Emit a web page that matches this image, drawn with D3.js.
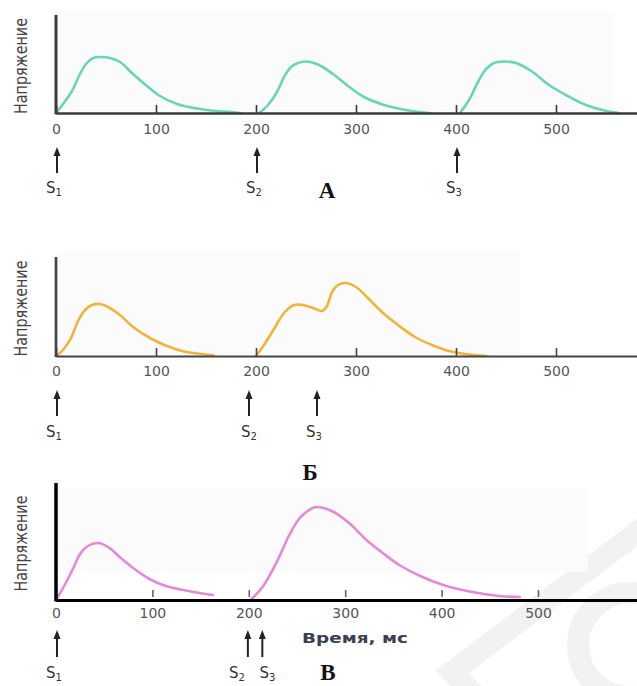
<!DOCTYPE html>
<html>
<head>
<meta charset="utf-8">
<style>
  body { margin: 0; background: #fff; }
  svg { display: block; }
</style>
</head>
<body>
<div id="chart"></div>
<script src="https://d3js.org/d3.v7.min.js"></script>
<script>
// time, ms / voltage (arbitrary units)
const ticks = [0, 100, 200, 300, 400, 500];

const curveA1 = [[0,0],[7,9],[16,22],[23,37],[30,49],[37,55],[45,56],[54,55],[64,51],[77,39],[91,27],[104,17],[121,9],[138,5],[155,2.5],[175,1],[185,0]];
const curveA2 = [[203,0],[212,8],[221,21],[228,36],[235,46],[242,50],[250,51.5],[262,48.5],[277,39],[292,27],[308,16],[325,9],[340,5],[356,2],[374,0]];
const curveA3 = [[404,0],[413,13],[422,31],[430,44],[438,50],[448,51.5],[460,50],[476,41.5],[493,28],[510,18],[530,8],[553,1.5],[563,0]];

const curveB1 = [[0,0],[7,6],[15,18],[22,35],[29,46],[36,51],[44,52],[52,49],[64,41],[77,29],[94,18],[111,10],[128,4.5],[145,2],[158,0.5]];
const curveB2 = [[200,0],[208,11],[218,27],[228,43],[238,51],[247,51],[257,48],[266,45],[271,50],[276,64],[282,71],[290,73],[300,69],[312,58],[326,44],[342,31],[359,19],[376,11],[393,5],[409,2],[430,0]];

const curveV1 = [[0,0],[9,15],[18,32],[25,46],[33,54],[44,57],[54,53],[66,43],[80,32],[97,21],[114,14],[132,10],[149,7],[163,5]];
const curveV2 = [[203,1],[215,14],[229,38],[242,65],[252,81],[261,89],[270,93],[286,89],[304,77],[322,60],[339,47],[356,35],[380,23],[405,14],[432,8],[460,4],[481,3]];

const stimA = [0, 200, 400];
const stimB = [0, 192, 260];
const stimV = [0, 198, 213];

const stimNames = ["1", "2", "3"];
const yTitle = "Напряжение";
const xTitle = "Время, мс";
const panelNames = ["А", "Б", "В"];

const W = 637, H = 686;
const svg = d3.select("#chart").append("svg")
  .attr("width", W).attr("height", H);

// faint watermark
const wm = svg.append("g").attr("fill", "none").attr("stroke", "#f2f2f2").attr("stroke-width", 22);
wm.append("polyline").attr("points", "660,515 452,672 480,700");
wm.append("circle").attr("cx", 630).attr("cy", 645).attr("r", 52);

const panels = [
  { top: 15, base: 113, xEnd: 556, curves: [curveA1, curveA2, curveA3], color: "#68d5b5",
    axis: "#3a3a3a", axisW: 2.5, tickPad: 11, tickIn: [0, 8], stims: stimA, sDx: [0, 0, 0],
    arrow: [147, 173], sY: 193, name: panelNames[0], nameX: 327, nameY: 198,
    bg: [58, 12, 555, 99] },
  { top: 257, base: 356, xEnd: 556, curves: [curveB1, curveB2], color: "#f0b43c",
    axis: "#444", axisW: 2.2, tickPad: 10, tickIn: [0, 8], stims: stimB, sDx: [0, 3, 0],
    arrow: [390, 416], sY: 437, name: panelNames[1], nameX: 310, nameY: 480,
    bg: [58, 252, 462, 103] },
  { top: 483, base: 600, xEnd: 538, curves: [curveV1, curveV2], color: "#e38ad6",
    axis: "#000", axisW: 3, tickPad: 8, tickIn: [3, 10], stims: stimV, sDx: [0, -8, 8],
    arrow: [630, 657], sY: 678, name: panelNames[2], nameX: 328, nameY: 680,
    bg: [58, 488, 530, 84] }
];

panels.forEach(p => {
  const x = d3.scaleLinear().domain([0, 500]).range([56, p.xEnd]);
  x.domain([0, x.invert(W)]).range([56, W]);
  const y = d3.scaleLinear().domain([0, p.base - p.top]).range([p.base, p.top]);
  const g = svg.append("g");

  g.append("rect").attr("x", p.bg[0]).attr("y", p.bg[1])
    .attr("width", p.bg[2]).attr("height", p.bg[3]).attr("fill", "#fbfbfb");

  // curves
  const line = d3.line().x(d => x(d[0])).y(d => y(d[1])).curve(d3.curveCatmullRom.alpha(0.5));
  p.curves.forEach(c => {
    g.append("path").datum(c).attr("d", line)
      .attr("fill", "none").attr("stroke", p.color)
      .attr("stroke-width", 2.6).attr("stroke-linecap", "round");
  });

  // x axis
  const ax = g.append("g").attr("transform", `translate(0,${p.base})`)
    .call(d3.axisBottom(x).tickValues(ticks).tickSizeOuter(0).tickSizeInner(0).tickPadding(p.tickPad));
  ax.select(".domain").attr("stroke", p.axis).attr("stroke-width", p.axisW);
  ax.selectAll(".tick line")
    .attr("y1", -p.tickIn[0]).attr("y2", -p.tickIn[1])
    .attr("stroke", p.axis === "#000" ? "#666" : p.axis).attr("stroke-width", 1.6);
  ax.selectAll(".tick text")
    .attr("fill", "#555").attr("font-family", "DejaVu Sans").attr("font-size", 14);

  // y axis
  g.append("line").attr("x1", 56).attr("x2", 56)
    .attr("y1", p.top).attr("y2", p.base + p.axisW / 2)
    .attr("stroke", p.axis).attr("stroke-width", p.axisW + 0.5);

  g.append("text")
    .attr("transform", `translate(27,${(p.top + p.base) / 2 + 2}) rotate(-90)`)
    .attr("text-anchor", "middle")
    .attr("font-family", "DejaVu Sans").attr("font-size", 17)
    .attr("textLength", 96).attr("lengthAdjust", "spacingAndGlyphs")
    .attr("fill", "#444").text(yTitle);

  // stimulus arrows
  p.stims.forEach((s, i) => {
    const sx = x(s) + 1;
    g.append("line").attr("x1", sx).attr("x2", sx)
      .attr("y1", p.arrow[0] + 6).attr("y2", p.arrow[1])
      .attr("stroke", "#222").attr("stroke-width", 2);
    g.append("path")
      .attr("d", `M${sx},${p.arrow[0]} L${sx - 3.5},${p.arrow[0] + 9} L${sx + 3.5},${p.arrow[0] + 9} Z`)
      .attr("fill", "#222");
    const t = g.append("text").attr("x", sx + p.sDx[i] - 3).attr("y", p.sY)
      .attr("text-anchor", "middle")
      .attr("font-family", "DejaVu Sans").attr("font-size", 15).attr("fill", "#333");
    t.append("tspan").text("S");
    t.append("tspan").attr("font-size", 10).attr("dy", 3).text(stimNames[i]);
  });

  g.append("text").attr("x", p.nameX).attr("y", p.nameY)
    .attr("text-anchor", "middle")
    .attr("font-family", "Liberation Serif").attr("font-weight", "bold")
    .attr("font-size", 23).attr("fill", "#111").text(p.name);
});

svg.append("text").attr("x", 302).attr("y", 643)
  .attr("font-family", "DejaVu Sans").attr("font-weight", "bold").attr("font-size", 14)
  .attr("textLength", 106).attr("lengthAdjust", "spacingAndGlyphs")
  .attr("fill", "#3a4050").text(xTitle);
</script>
</body>
</html>
